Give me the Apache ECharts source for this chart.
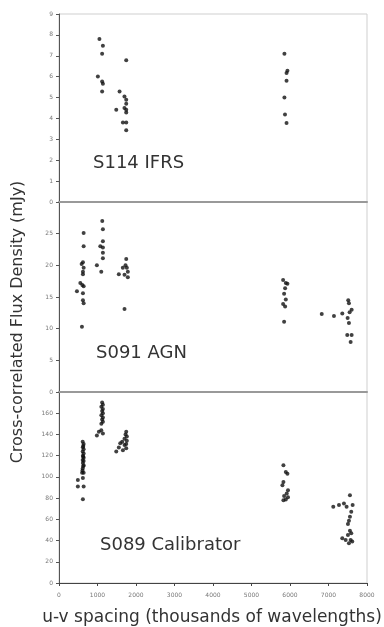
<!DOCTYPE html>
<html lang="en">
<head>
    <meta charset="UTF-8">
    <title>Cross-correlated flux density</title>
    <style>
        html, body { margin: 0; padding: 0; background: #fff; }
        #main { width: 384px; height: 627px; }
    </style>
</head>
<body>
<div id="main"></div>
<script src="https://cdn.jsdelivr.net/npm/echarts@6/dist/echarts.min.js"></script>
<script>
    // panel labels
    var panelNames = ['S114 IFRS', 'S091 AGN', 'S089 Calibrator'];

    // [u-v spacing (thousands of wavelengths), flux density (mJy)]
    var s114 = [
        [1050, 7.8], [1140, 7.48], [1120, 7.1], [1010, 6.01], [1120, 5.77], [1140, 5.66], [1120, 5.29],
        [1746, 6.78], [1573, 5.29], [1700, 5.05], [1746, 4.9], [1487, 4.42], [1746, 4.7], [1700, 4.5],
        [1746, 4.42], [1746, 4.29], [1660, 3.81], [1746, 3.81], [1746, 3.43],
        [5855, 7.1], [5933, 6.28], [5910, 6.17], [5910, 5.8], [5855, 5.0], [5870, 4.19], [5910, 3.78]
    ];

    var s091 = [
        [640, 25.1], [640, 23.0], [622, 20.5], [588, 20.2], [640, 19.6], [622, 19.0], [622, 18.6],
        [554, 17.2], [606, 16.9], [640, 16.7], [466, 15.9], [622, 15.6], [622, 14.5], [640, 14.0], [596, 10.3],
        [1124, 27.0], [1140, 25.7], [1140, 23.8], [1073, 23.0], [1140, 22.8], [1140, 22.0], [1140, 21.1],
        [984, 20.0], [1098, 19.0],
        [1746, 21.0], [1728, 20.0], [1658, 19.6], [1762, 19.6], [1788, 19.0], [1554, 18.6], [1702, 18.5],
        [1788, 18.1], [1702, 13.1],
        [5821, 17.7], [5891, 17.2], [5933, 17.1], [5873, 16.4], [5847, 15.5], [5891, 14.6], [5821, 13.9],
        [5873, 13.5], [5847, 11.1],
        [6824, 12.3], [7142, 12.0], [7358, 12.4], [7513, 14.5], [7531, 14.0], [7601, 13.0], [7549, 12.6],
        [7497, 11.7], [7531, 10.9], [7487, 9.0], [7601, 9.0], [7575, 7.9]
    ];

    var s089 = [
        [616, 133], [640, 131], [630, 129], [620, 128], [640, 126], [616, 124], [640, 122], [620, 120],
        [630, 119], [640, 118], [616, 116], [640, 115], [620, 113], [640, 111], [630, 110], [616, 108],
        [610, 106], [600, 104], [640, 104], [620, 99], [490, 97], [490, 91], [640, 91], [620, 79],
        [1120, 170], [1140, 168], [1100, 166], [1140, 164], [1120, 162], [1140, 160], [1100, 158],
        [1140, 156], [1120, 154], [1140, 152], [1100, 150], [984, 139], [1036, 142.6], [1098, 144], [1140, 141],
        [1487, 124], [1554, 127.6], [1591, 131.6], [1642, 133], [1702, 136], [1746, 142.6], [1728, 140],
        [1762, 138], [1702, 130], [1746, 127], [1660, 125], [1762, 134], [1746, 131],
        [5829, 111], [5891, 104.7], [5933, 103], [5829, 95.3], [5803, 92.2], [5948, 87.5], [5915, 84.4],
        [5847, 81.9], [5891, 78.8], [5948, 80.7], [5829, 78.1],
        [7124, 71.9], [7272, 73.5], [7401, 75], [7470, 71.9], [7557, 82.8], [7627, 73.5], [7591, 67.2],
        [7557, 62.5], [7531, 58.7], [7505, 55.6], [7557, 49.3], [7591, 46.9], [7505, 45.3], [7358, 42.2],
        [7446, 40.6], [7575, 40.6], [7531, 37.5], [7617, 39]
    ];

    // y ranges per panel
    var yMax = [9, 30, 180];
    var yStep = [1, 5, 20];

    var xMin = 0, xMax = 8000, xStep = 1000;

    var chart = echarts.init(document.getElementById('main'));
    var font = 'DejaVu Sans';
    var tops = [14, 202, 392];
    var heights = [188, 190, 191];

    var grids = [], xAxes = [], yAxes = [], series = [];
    var sets = [s114, s091, s089];
    for (var i = 0; i < 3; i++) {
        grids.push({
            left: 59, right: 17, top: tops[i], height: heights[i],
            show: true, borderColor: '#cfcfcf', borderWidth: 1
        });
        var last = i === 2;
        xAxes.push({
            type: 'value', gridIndex: i, min: xMin, max: xMax, interval: xStep,
            axisLine: { show: true, lineStyle: { color: last ? '#444' : '#999', width: last ? 1 : 2 } },
            axisTick: { show: last, length: 3, lineStyle: { color: '#444' } },
            axisLabel: {
                show: last, fontSize: 6, color: '#777', fontFamily: font, margin: 9,
                formatter: function (v) { return String(v); }
            },
            splitLine: { show: false }
        });
        yAxes.push({
            type: 'value', gridIndex: i, min: 0, max: yMax[i], interval: yStep[i],
            axisLine: { show: true, lineStyle: { color: '#555' } },
            axisTick: { show: true, length: 3, lineStyle: { color: '#555' } },
            axisLabel: { fontSize: 6, color: '#777', fontFamily: font, margin: 6, showMaxLabel: i === 0 },
            splitLine: { show: false }
        });
        series.push({
            type: 'scatter', xAxisIndex: i, yAxisIndex: i,
            symbolSize: 4, itemStyle: { color: '#111' },
            data: sets[i]
        });
    }

    var labelPos = [[93, 163], [96, 353], [100, 545]];
    var graphics = labelPos.map(function (p, i) {
        return {
            type: 'text', x: p[0], y: p[1],
            style: { text: panelNames[i], font: '18px ' + font, fill: '#333', verticalAlign: 'middle' }
        };
    });
    graphics.push({
        type: 'text', x: 18, y: 322, rotation: Math.PI / 2,
        style: {
            text: 'Cross-correlated Flux Density (mJy)', font: '16px ' + font, fill: '#333',
            align: 'center', verticalAlign: 'middle'
        }
    });
    graphics.push({
        type: 'text', x: 212, y: 618,
        style: {
            text: 'u-v spacing (thousands of wavelengths)', font: '17px ' + font, fill: '#333',
            align: 'center', verticalAlign: 'middle'
        }
    });

    var option = {
        animation: false,
        backgroundColor: '#fff',
        grid: grids,
        xAxis: xAxes,
        yAxis: yAxes,
        series: series,
        graphic: graphics
    };
    chart.setOption(option);
</script>
</body>
</html>
